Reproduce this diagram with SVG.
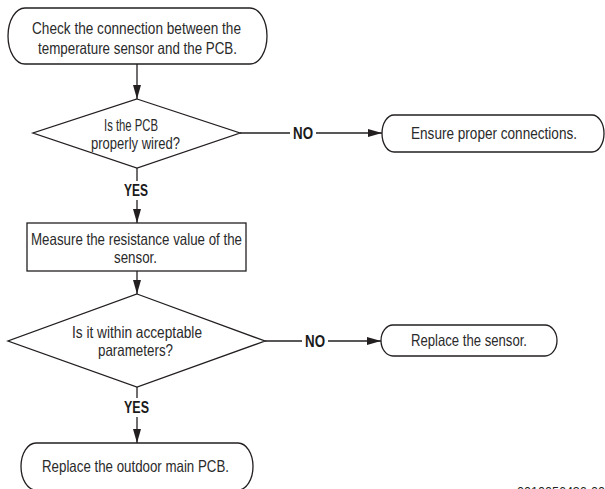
<svg xmlns="http://www.w3.org/2000/svg" width="605" height="489" viewBox="0 0 605 489">
<style>
.shape{fill:#fff;stroke:#231f20;stroke-width:1.3}
.conn{fill:none;stroke:#231f20;stroke-width:1.3}
.t{font-family:"Liberation Sans",Arial,sans-serif;font-size:16.5px;fill:#2a2a2a;text-anchor:middle}
.b{font-weight:bold;fill:#1a1a1a}
.code{font-family:"Liberation Sans",Arial,sans-serif;font-size:12px;fill:#231f20;text-anchor:middle}
</style>
<defs>
<marker id="arr" markerUnits="userSpaceOnUse" markerWidth="14" markerHeight="8" refX="14" refY="4" orient="auto">
<path d="M0,0 L14,4 L0,8 z" fill="#231f20"/>
</marker>
</defs>
<rect width="605" height="489" fill="#fff"/>
<g id="connectors">
<line class="conn" x1="137" y1="64" x2="137" y2="99" marker-end="url(#arr)"/>
<line class="conn" x1="240" y1="133" x2="290" y2="133"/>
<line class="conn" x1="316" y1="133" x2="382" y2="133" marker-end="url(#arr)"/>
<line class="conn" x1="137" y1="168" x2="137" y2="181"/>
<line class="conn" x1="137" y1="200" x2="137" y2="223" marker-end="url(#arr)"/>
<line class="conn" x1="137" y1="271" x2="137" y2="294" marker-end="url(#arr)"/>
<line class="conn" x1="265" y1="341" x2="302" y2="341"/>
<line class="conn" x1="328" y1="341" x2="381" y2="341" marker-end="url(#arr)"/>
<line class="conn" x1="137" y1="387" x2="137" y2="398"/>
<line class="conn" x1="137" y1="417" x2="137" y2="443" marker-end="url(#arr)"/>
<text class="t b" x="303" y="139" textLength="20" lengthAdjust="spacingAndGlyphs">NO</text>
<text class="t b" x="136" y="196" textLength="24" lengthAdjust="spacingAndGlyphs">YES</text>
<text class="t b" x="315" y="347" textLength="20" lengthAdjust="spacingAndGlyphs">NO</text>
<text class="t b" x="136.5" y="413" textLength="25" lengthAdjust="spacingAndGlyphs">YES</text>
</g>
<g id="start">
<rect class="shape" x="8" y="8" width="259" height="56" rx="17" ry="28"/>
<text class="t" x="136.5" y="34" textLength="209" lengthAdjust="spacingAndGlyphs">Check the connection between the</text>
<text class="t" x="137.5" y="54" textLength="199" lengthAdjust="spacingAndGlyphs">temperature sensor and the PCB.</text>
</g>
<g id="decision1">
<polygon class="shape" points="137,99 240,133 137,168 33,133"/>
<text class="t" x="131" y="131" textLength="54" lengthAdjust="spacingAndGlyphs">Is the PCB</text>
<text class="t" x="135.5" y="149" textLength="89" lengthAdjust="spacingAndGlyphs">properly wired?</text>
</g>
<g id="ensure">
<rect class="shape" x="382" y="115" width="222" height="37" rx="12" ry="18.5"/>
<text class="t" x="494" y="139" textLength="166" lengthAdjust="spacingAndGlyphs">Ensure proper connections.</text>
</g>
<g id="measure">
<rect class="shape" x="27" y="223" width="219" height="48"/>
<text class="t" x="136.5" y="245" textLength="211" lengthAdjust="spacingAndGlyphs">Measure the resistance value of the</text>
<text class="t" x="135.5" y="263" textLength="43" lengthAdjust="spacingAndGlyphs">sensor.</text>
</g>
<g id="decision2">
<polygon class="shape" points="137,294 265,341 137,387 8,341"/>
<text class="t" x="137" y="338" textLength="130" lengthAdjust="spacingAndGlyphs">Is it within acceptable</text>
<text class="t" x="135.5" y="356" textLength="75" lengthAdjust="spacingAndGlyphs">parameters?</text>
</g>
<g id="replace-sensor">
<rect class="shape" x="381" y="325" width="176" height="31" rx="12" ry="15.5"/>
<text class="t" x="469" y="346" textLength="116" lengthAdjust="spacingAndGlyphs">Replace the sensor.</text>
</g>
<g id="replace-pcb">
<rect class="shape" x="21" y="443" width="232" height="47" rx="15" ry="23.5"/>
<text class="t" x="135.5" y="472" textLength="187" lengthAdjust="spacingAndGlyphs">Replace the outdoor main PCB.</text>
</g>
<text class="code" x="561" y="496" textLength="88" lengthAdjust="spacingAndGlyphs">0010056436-00</text>
</svg>
